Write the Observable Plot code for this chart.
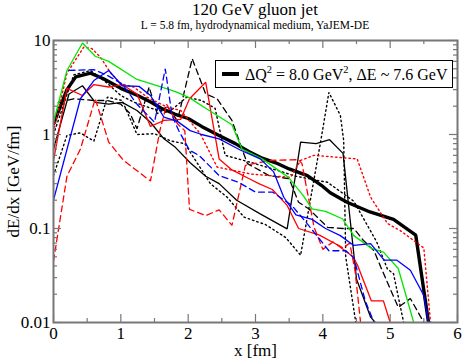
<!DOCTYPE html>
<html><head><meta charset="utf-8">
<script src="https://cdn.jsdelivr.net/npm/d3@7"></script>
<script src="https://cdn.jsdelivr.net/npm/@observablehq/plot@0.6"></script>
<style>
body{margin:0;background:#fff;font-family:"Liberation Serif","DejaVu Serif",serif;color:#000;}
#wrap{position:relative;width:463px;height:360px;overflow:hidden;background:#fff;}
#chart{position:absolute;left:0;top:26px;}
#title{position:absolute;left:0;width:510px;top:0px;text-align:center;font-size:17px;line-height:19px;white-space:nowrap;}
#subtitle{position:absolute;left:0;width:510px;top:20px;text-align:center;font-size:11.5px;line-height:11.5px;white-space:nowrap;}
#legend{position:absolute;left:215px;top:60px;width:238px;height:28px;box-sizing:border-box;border:1px solid #000;background:#fff;}
#legline{position:absolute;left:222px;top:72px;width:17px;height:4px;background:#000;}
#legtext{position:absolute;left:245px;top:67px;font-size:16px;line-height:16px;white-space:nowrap;}
#legtext sup{font-size:10.5px;vertical-align:baseline;position:relative;top:-7px;}
</style>
</head><body>
<div id="wrap">
  <div id="chart"></div>
  <div id="title">120 GeV gluon jet</div>
  <div id="subtitle">L = 5.8 fm, hydrodynamical medium, YaJEM-DE</div>
  <div id="legend"></div>
  <div id="legline"></div>
  <div id="legtext">ΔQ<sup>2</sup> = 8.0 GeV<sup>2</sup>, ΔE ~ 7.6 GeV</div>
</div>
<script>
// ---- data: [x (fm), dE/dx (GeV/fm)] ----
const meanLine = [[0,1.3],[0.2,3.0],[0.33,4.1],[0.55,4.5],[0.75,3.9],[1.0,3.1],[1.25,2.6],[1.45,2.2],[1.6,1.9],[1.8,1.65],[2.0,1.48],[2.2,1.22],[2.45,0.98],[2.7,0.8],[2.9,0.66],[3.1,0.56],[3.3,0.5],[3.5,0.43],[3.77,0.366],[4.0,0.28],[4.11,0.24],[4.36,0.19],[4.7,0.15],[5.05,0.125],[5.38,0.085],[5.57,0.01]];
const greenLine = [[0,1.35],[0.2,4.8],[0.43,9.4],[0.62,6.8],[0.82,6.0],[1.24,3.85],[1.69,3.06],[1.84,2.8],[2.02,2.45],[2.26,1.9],[2.65,1.27],[2.8,0.7],[3.1,0.55],[3.49,0.35],[3.71,0.224],[3.84,0.162],[4.04,0.152],[4.29,0.127],[4.46,0.084],[4.73,0.061],[4.9,0.056],[5.12,0.0375],[5.35,0.01]];
const blueLine = [[0,0.2],[0.4,2.4],[0.6,3.75],[0.82,4.8],[1.02,3.3],[1.27,3.25],[1.44,2.6],[1.64,1.53],[1.84,1.38],[2.03,1.1],[2.2,1.0],[2.46,0.9],[2.78,0.68],[3.07,0.55],[3.27,0.4],[3.42,0.215],[3.6,0.14],[3.84,0.125],[4.04,0.1],[4.26,0.084],[4.46,0.066],[4.71,0.069],[4.91,0.046],[5.1,0.046],[5.3,0.036],[5.5,0.0194],[5.57,0.01]];
const blueDashLine = [[0.23,4.8],[0.6,4.9],[0.8,4.25],[1.02,3.45],[1.24,2.1],[1.5,1.35],[1.66,5.0],[1.76,1.6],[1.86,1.1],[2.02,0.68],[2.16,0.6],[2.46,0.366],[2.75,0.31],[3.0,0.244],[3.25,0.244],[3.54,0.176],[3.77,0.112],[4.09,0.058],[4.34,0.058],[4.46,0.049],[4.63,0.017],[4.76,0.01]];
const blackSolidLine = [[0,0.7],[0.23,2.7],[0.43,3.3],[0.62,2.2],[0.82,2.1],[1.02,2.2],[1.24,1.8],[1.44,1.35],[1.64,0.9],[1.81,0.73],[2.03,0.5],[2.26,0.36],[2.46,0.3],[2.72,0.2],[3.07,0.143],[3.47,0.099],[3.67,0.83],[3.9,0.8],[4.1,0.88],[4.3,0.63],[4.5,0.029],[4.71,0.0114],[4.78,0.01]];
const blackDashLine = [[0.07,2.2],[0.3,2.4],[0.6,2.3],[0.8,2.3],[1.0,2.1],[1.14,1.66],[1.24,1.15],[1.42,3.2],[1.54,1.66],[1.69,2.0],[1.84,1.4],[2.06,6.4],[2.26,2.7],[2.43,2.4],[2.65,1.41],[2.8,0.7],[2.88,0.49],[3.2,0.366],[3.5,0.338],[3.64,0.19],[3.79,0.162],[4.07,0.103],[4.3,0.1],[4.46,0.1],[4.6,0.075],[4.76,0.058],[4.86,0.039],[5.12,0.0145],[5.3,0.018],[5.5,0.01]];
const redSolidLine = [[0,0.53],[0.2,3.1],[0.43,2.6],[0.6,3.4],[0.82,3.2],[1.02,3.4],[1.24,2.7],[1.44,1.22],[1.64,1.41],[1.89,1.45],[2.02,2.4],[2.26,3.6],[2.46,0.55],[2.65,0.42],[2.9,0.34],[3.05,0.3],[3.25,0.26],[3.47,0.176],[3.64,0.1],[3.95,0.085],[4.2,0.068],[4.45,0.05],[4.52,0.04],[4.72,0.017],[4.9,0.017],[5.0,0.01]];
const redDashLine = [[0,0.045],[0.2,0.36],[0.4,0.7],[0.62,2.4],[0.82,0.83],[1.04,0.53],[1.44,0.32],[1.58,1.1],[1.68,2.1],[1.84,1.3],[1.95,1.1],[2.02,0.16],[2.26,0.137],[2.46,0.158],[2.65,0.108],[2.85,0.47],[3.22,0.53],[3.64,0.54],[3.69,0.49],[3.87,0.103],[4.0,0.06],[4.15,0.072],[4.3,0.062],[4.4,0.07],[4.48,0.035],[4.56,0.01]];
const redDotLine = [[0,1.06],[0.2,4.5],[0.45,8.5],[0.57,8.2],[0.7,6.6],[0.85,4.5],[1.0,3.46],[1.19,3.2],[1.39,2.5],[1.69,1.95],[1.89,1.8],[2.18,1.02],[2.43,0.45],[2.93,0.38],[3.52,0.35],[3.67,0.53],[3.87,0.6],[4.51,0.55],[4.71,0.215],[4.96,0.113],[5.15,0.095],[5.5,0.062],[5.6,0.01]];
const blackDotLineA = [[0,0.366],[0.2,0.98],[0.4,1.04],[0.6,0.85],[0.8,2.5],[1.02,2.3],[1.24,1.0],[1.5,1.02],[1.75,0.85],[1.95,0.8],[2.33,0.3],[2.58,0.215],[2.83,0.132],[3.15,0.11],[3.45,0.08],[3.67,0.052],[3.97,0.86],[4.09,2.8],[4.26,1.6],[4.31,0.86],[4.34,0.05],[4.44,0.017],[4.49,0.01]];
const blackDotLineB = [[0,1.0],[0.3,4.3],[0.55,4.8],[0.8,3.5],[1.0,2.6],[1.2,2.2],[1.45,1.9],[1.7,1.7],[1.98,2.5],[2.2,2.3],[2.4,1.9],[2.55,0.6],[2.95,0.5],[3.3,0.42],[3.6,0.36],[4.07,0.31],[4.46,0.195],[4.8,0.072],[4.96,0.037],[5.05,0.033],[5.2,0.01]];

// ---- axes ----
const xTickValues = [0,1,2,3,4,5,6];
const xMinorValues = [0.5,1.5,2.5,3.5,4.5,5.5];
const yTickValues = [0.01,0.1,1,10];
const yTickLabels = ["0.01","0.1","1","10"];
const yMinorValues = [];
for (const p of [0.01,0.1,1]) for (let k=2;k<=9;k++) yMinorValues.push(+(p*k).toPrecision(3));

// ---- styles (separate from data) ----
const series = [
  {data: meanLine, stroke:"#000", width:3.4, dash:null},
  {data: blackSolidLine, stroke:"#000", width:1.3, dash:null},
  {data: blackDashLine, stroke:"#000", width:1.3, dash:"6,4"},
  {data: blackDotLineA, stroke:"#000", width:1.4, dash:"1.5,3"},
  {data: blackDotLineB, stroke:"#000", width:1.4, dash:"1.5,3"},
  {data: redSolidLine, stroke:"#ff0000", width:1.3, dash:null},
  {data: redDashLine, stroke:"#ff0000", width:1.3, dash:"6,4"},
  {data: redDotLine, stroke:"#ff0000", width:1.4, dash:"1.5,3"},
  {data: greenLine, stroke:"#00e600", width:1.3, dash:null},
  {data: blueLine, stroke:"#0000ff", width:1.3, dash:null},
  {data: blueDashLine, stroke:"#0000ff", width:1.3, dash:"6,4"}
];

const W = 463, H = 334, mt = 14, mb = 38, ml = 53, mr = 6;
const FH = H - mt - mb, FW = W - ml - mr;
const axisColor = "#777";

const marks = [];
for (const s of series) {
  marks.push(Plot.line(s.data, {x: d => d[0], y: d => d[1], stroke: s.stroke, strokeWidth: s.width, strokeDasharray: s.dash, clip: true, strokeLinejoin: "miter"}));
}
// inward ticks
marks.push(Plot.tickX(xTickValues, {x: d => d, insetTop: FH - 8, stroke: axisColor, strokeWidth: 1.2}));
marks.push(Plot.tickX(xTickValues, {x: d => d, insetBottom: FH - 8, stroke: axisColor, strokeWidth: 1.2}));
marks.push(Plot.tickX(xMinorValues, {x: d => d, insetTop: FH - 4, stroke: axisColor, strokeWidth: 1.2}));
marks.push(Plot.tickX(xMinorValues, {x: d => d, insetBottom: FH - 4, stroke: axisColor, strokeWidth: 1.2}));
marks.push(Plot.tickY(yTickValues, {y: d => d, insetRight: FW - 8, stroke: axisColor, strokeWidth: 1.2}));
marks.push(Plot.tickY(yTickValues, {y: d => d, insetLeft: FW - 8, stroke: axisColor, strokeWidth: 1.2}));
marks.push(Plot.tickY(yMinorValues, {y: d => d, insetRight: FW - 4, stroke: axisColor, strokeWidth: 1.2}));
marks.push(Plot.tickY(yMinorValues, {y: d => d, insetLeft: FW - 4, stroke: axisColor, strokeWidth: 1.2}));
marks.push(Plot.frame({stroke: axisColor, strokeWidth: 2}));
marks.push(Plot.axisX({ticks: xTickValues, tickSize: 0, tickPadding: 4, label: null, tickFormat: d => String(d)}));
marks.push(Plot.axisY({ticks: yTickValues, tickSize: 0, tickPadding: 3, label: null, tickFormat: d => yTickLabels[yTickValues.indexOf(d)] ?? String(d)}));
marks.push(Plot.text(["x [fm]"], {frameAnchor: "bottom", text: d => d, dy: 28, lineAnchor: "middle", textAnchor: "middle", fontSize: 17}));
marks.push(Plot.text(["dE/dx [GeV/fm]"], {frameAnchor: "left", text: d => d, dx: -40, rotate: -90, lineAnchor: "middle", textAnchor: "middle", fontSize: 17}));

const chart = Plot.plot({
  width: W, height: H,
  marginTop: mt, marginBottom: mb, marginLeft: ml, marginRight: mr,
  style: {fontFamily: "Liberation Serif, serif", fontSize: "17px", background: "transparent", color: "#000"},
  x: {domain: [0, 6]},
  y: {type: "log", domain: [0.01, 10]},
  marks
});
document.getElementById("chart").appendChild(chart);
</script>
</body></html>
